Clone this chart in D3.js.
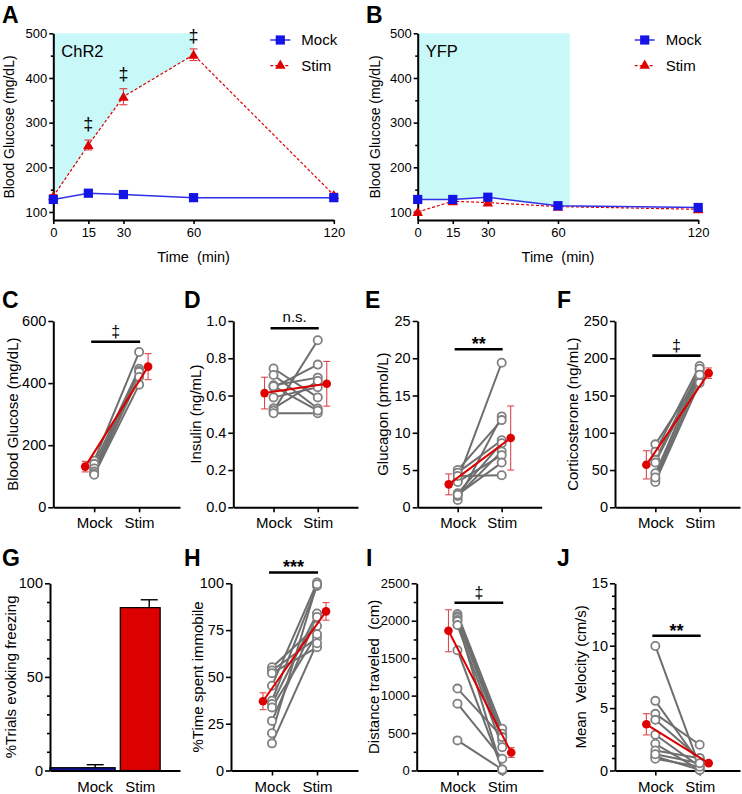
<!DOCTYPE html>
<html><head><meta charset="utf-8">
<script src="https://cdn.jsdelivr.net/npm/d3@7/dist/d3.min.js"></script>
<style>body{margin:0;background:#fff}</style>
</head><body>
<svg id="fig" width="742" height="794" xmlns="http://www.w3.org/2000/svg"></svg>
<script>
// ---------- DATA ----------
const timePoints = [0, 15, 30, 60, 120];
const chr2Mock = [128, 142, 139, 132, 132];
const chr2MockErr = [3, 4, 3, 3, 3];
const chr2Stim = [135, 250, 358, 452, 138];
const chr2StimErr = [4, 11, 18, 13, 4];
const chr2SigY = [null, 297, 409, 495, null];
const yfpMock = [128, 128, 133, 114, 110];
const yfpMockErr = [3, 6, 3, 4, 3];
const yfpStim = [100, 124, 121, 112, 106];
const yfpStimErr = [2, 4, 3, 3, 3];
const shadeA = [0, 60];
const shadeB = [0, 65];
const groups = ["Mock", "Stim"];

const glucoseMock = [150, 140, 125, 115, 108, 105];
const glucoseStim = [500, 446, 440, 436, 420, 395];
const glucoseMean = [131, 453];
const glucoseSem = [17, 42];

const insulinMock = [0.745, 0.71, 0.655, 0.644, 0.59, 0.531, 0.519, 0.505, 0.65];
const insulinStim = [0.59, 0.53, 0.696, 0.766, 0.644, 0.678, 0.897, 0.505, 0.519];
const insulinMean = [0.613, 0.663];
const insulinSem = [0.085, 0.12];

const glucagonMock = [3.66, 0.98, 5.0, 4.65, 1.88, 1.52, 3.4, 1.7, 4.2];
const glucagonStim = [19.4, 12.2, 11.7, 9.0, 8.6, 7.5, 7.0, 6.0, 4.3];
const glucagonMean = [3.08, 9.3];
const glucagonSem = [1.4, 4.3];

const corticoMock = [84.5, 74.7, 63.5, 45.6, 37.6, 34, 40, 60];
const corticoStim = [176, 189.7, 185, 180, 174.5, 167, 186, 178];
const corticoMean = [57, 180];
const corticoSem = [19, 7];

const freezingMean = [1.5, 87];
const freezingSem = [1.6, 4.2];

const immobileMock = [55.2, 53.4, 52, 45.3, 37.3, 35.5, 33.7, 26.5, 19.9, 14.5];
const immobileStim = [77.2, 70.8, 65.8, 100.4, 98.6, 83.9, 72.8, 82, 99.5, 68];
const immobileMean = [37, 85];
const immobileSem = [4.5, 4.7];

const distanceMock = [2089, 2060, 2040, 2010, 1995, 1942, 1607, 1094, 893, 402];
const distanceStim = [558, 491, 446, 402, 0, 312, 13, 446, 156, 13];
const distanceMean = [1866, 240];
const distanceSem = [280, 65];

const velocityMock = [9.98, 5.58, 4.54, 4.06, 2.86, 2.14, 1.6, 1.12, 0.94, 1.3];
const velocityStim = [0.3, 0.6, 2.06, 0.99, 0.32, 0.05, 0.99, 0.05, 0.3, 0.59];
const velocityMean = [3.7, 0.59];
const velocitySem = [0.85, 0.15];

// ---------- DRAWING ----------
const FONT = '"Liberation Sans", Arial, Helvetica, sans-serif';
const svg = d3.select("#fig");
const RED = "#dd0000", BLUE = "#1414e6", GRAY = "#6e6e6e", ERR = "#e0474c";

function styleAxis(g, fs) {
  g.selectAll("path.domain").attr("stroke", "#000").attr("stroke-width", 2);
  g.selectAll(".tick line").attr("stroke", "#000").attr("stroke-width", 1.6);
  g.selectAll(".tick text").attr("font-size", fs).attr("fill", "#000").attr("font-family", FONT);
}
function letter(t, x, y) {
  svg.append("text").attr("x", x).attr("y", y).attr("font-family", FONT)
    .attr("font-weight", "bold").attr("font-size", 23).text(t);
}
function yTitle(t, x, yc, fs) {
  svg.append("text").attr("transform", `translate(${x},${yc}) rotate(-90)`)
    .attr("text-anchor", "middle").attr("dominant-baseline", "central")
    .attr("font-family", FONT).attr("font-size", fs).text(t);
}
function errBar(g, xp, y0, y1, col, cap, w) {
  g.append("line").attr("x1", xp).attr("x2", xp).attr("y1", y0).attr("y2", y1).attr("stroke", col).attr("stroke-width", w);
  [y0, y1].forEach(yy => g.append("line").attr("x1", xp - cap).attr("x2", xp + cap).attr("y1", yy).attr("y2", yy).attr("stroke", col).attr("stroke-width", w));
}

function timePanel(c) {
  const x = d3.scaleLinear().domain([0, 120]).range([c.left, c.left + 280.5]);
  const y = d3.scaleLinear().domain([82, 500]).range([220, 33.3]);
  const g = svg.append("g");
  const lineAt = (vals, t) => {
    for (let i = 0; i < timePoints.length - 1; i++) {
      const t0 = timePoints[i], t1 = timePoints[i + 1];
      if (t >= t0 && t <= t1) return vals[i] + (vals[i + 1] - vals[i]) * (t - t0) / (t1 - t0);
    }
    return vals[vals.length - 1];
  };
  const [s0, s1] = c.shade;
  const lower = [[s1, lineAt(c.shadeLine, s1)]]
    .concat(timePoints.map((t, i) => [t, c.shadeLine[i]]).filter(d => d[0] > s0 && d[0] < s1).reverse())
    .concat([[s0, lineAt(c.shadeLine, s0)]]);
  const poly = [[s0, 500], [s1, 500]].concat(lower);
  g.append("path").attr("d", d3.line().x(d => x(d[0])).y(d => y(d[1]))(poly) + "Z").attr("fill", "#c8f8f8");

  const gy = g.append("g").attr("transform", `translate(${c.left},0)`)
    .call(d3.axisLeft(y).tickValues([100, 200, 300, 400, 500]).tickSize(4).tickSizeOuter(0).tickPadding(2));
  styleAxis(gy, 13);
  const gm = g.append("g").attr("transform", `translate(${c.left},0)`)
    .call(d3.axisLeft(y).tickValues([150, 250, 350, 450]).tickFormat("").tickSize(2.5));
  gm.select("path.domain").remove(); styleAxis(gm, 12);
  const gx = g.append("g").attr("transform", `translate(0,220)`)
    .call(d3.axisBottom(x).tickValues(timePoints).tickFormat(d3.format("d")).tickSize(4).tickSizeOuter(0).tickPadding(4));
  styleAxis(gx, 13);
  g.append("text").attr("x", x(60)).attr("y", 262).attr("text-anchor", "middle").attr("font-family", FONT)
    .attr("font-size", 14.5).style("white-space", "pre").text("Time  (min)");
  yTitle("Blood Glucose (mg/dL)", c.titleX, 127, 14);
  g.append("text").attr("x", c.left + 8).attr("y", 57).attr("font-family", FONT).attr("font-size", 16.5).text(c.label);

  const pts = (vals) => timePoints.map((t, i) => [t, vals[i]]);
  // Stim
  g.append("path").attr("d", d3.line().x(d => x(d[0])).y(d => y(d[1]))(pts(c.stim)))
    .attr("fill", "none").attr("stroke", RED).attr("stroke-width", 1.2).attr("stroke-dasharray", "3,2");
  timePoints.forEach((t, i) => errBar(g, x(t), y(c.stim[i] - c.stimErr[i]), y(c.stim[i] + c.stimErr[i]), ERR, 4, 1.2));
  g.selectAll(null).data(pts(c.stim)).enter().append("path")
    .attr("d", d3.symbol(d3.symbolTriangle, 48)()).attr("transform", d => `translate(${x(d[0])},${y(d[1]) + 1})`).attr("fill", RED);
  // Mock
  g.append("path").attr("d", d3.line().x(d => x(d[0])).y(d => y(d[1]))(pts(c.mock)))
    .attr("fill", "none").attr("stroke", "#3030e8").attr("stroke-width", 1.5);
  timePoints.forEach((t, i) => errBar(g, x(t), y(c.mock[i] - c.mockErr[i]), y(c.mock[i] + c.mockErr[i]), "#6060f0", 4, 1.2));
  g.selectAll(null).data(pts(c.mock)).enter().append("rect")
    .attr("x", d => x(d[0]) - 4.6).attr("y", d => y(d[1]) - 4.6).attr("width", 9.2).attr("height", 9.2).attr("fill", BLUE);
  // significance
  if (c.sig) timePoints.forEach((t, i) => {
    if (c.sig[i] != null) g.append("text").attr("x", x(t)).attr("y", y(c.sig[i])).attr("text-anchor", "middle")
      .attr("dominant-baseline", "central").attr("font-family", FONT).attr("font-size", 18).text("‡");
  });
  // legend
  const lx = c.left + 217;
  [["Mock", 40], ["Stim", 65.7]].forEach(([lab, ly]) => {
    if (lab === "Mock") {
      g.append("line").attr("x1", lx).attr("x2", lx + 20).attr("y1", ly).attr("y2", ly).attr("stroke", "#3030e8").attr("stroke-width", 1.5);
      g.append("rect").attr("x", lx + 10 - 4.6).attr("y", ly - 4.6).attr("width", 9.2).attr("height", 9.2).attr("fill", BLUE);
    } else {
      g.append("line").attr("x1", lx).attr("x2", lx + 20).attr("y1", ly).attr("y2", ly).attr("stroke", RED).attr("stroke-width", 1.2).attr("stroke-dasharray", "3,2");
      g.append("path").attr("d", d3.symbol(d3.symbolTriangle, 48)()).attr("transform", `translate(${lx + 10},${ly})`).attr("fill", RED);
    }
    g.append("text").attr("x", lx + 31).attr("y", ly + 5.4).attr("font-family", FONT).attr("font-size", 15).text(lab);
  });
}

function pairedPanel(c) {
  const x = d3.scalePoint().domain(groups).range([c.left, c.right]).padding(0.91);
  const y = d3.scaleLinear().domain(c.domain).range([c.bottom, c.top]);
  const g = svg.append("g");
  const gy = g.append("g").attr("transform", `translate(${c.left},0)`)
    .call(d3.axisLeft(y).tickValues(c.ticks).tickFormat(c.fmt || d3.format("d")).tickSize(5).tickSizeOuter(0).tickPadding(2));
  styleAxis(gy, c.tickFs || 14.5);
  if (c.minor) {
    const gm = g.append("g").attr("transform", `translate(${c.left},0)`)
      .call(d3.axisLeft(y).tickValues(c.minor).tickFormat("").tickSize(3));
    gm.select("path.domain").remove(); styleAxis(gm, 12);
  }
  const gx = g.append("g").attr("transform", `translate(0,${c.bottom})`)
    .call(d3.axisBottom(x).tickSize(5).tickSizeOuter(0).tickPadding(5.5));
  styleAxis(gx, 15);
  yTitle(c.title, c.titleX, (c.top + c.bottom) / 2, 15);

  c.mock.forEach((m, i) => {
    g.append("line").attr("x1", x("Mock")).attr("y1", y(m)).attr("x2", x("Stim")).attr("y2", y(c.stim[i]))
      .attr("stroke", GRAY).attr("stroke-width", 2);
  });
  const circ = (cx, v) => g.append("circle").attr("cx", cx).attr("cy", y(v)).attr("r", 4.1)
    .attr("fill", "#fff").attr("stroke", "#808080").attr("stroke-width", 1.8);
  c.mock.forEach(v => circ(x("Mock"), v));
  c.stim.forEach(v => circ(x("Stim"), v));

  const mx = [x("Mock") - 9, x("Stim") + 9];
  c.mean.forEach((m, i) => errBar(g, mx[i], y(m - c.sem[i]), y(m + c.sem[i]), ERR, 3.5, 1.1));
  g.append("line").attr("x1", mx[0]).attr("y1", y(c.mean[0])).attr("x2", mx[1]).attr("y2", y(c.mean[1]))
    .attr("stroke", RED).attr("stroke-width", 2);
  c.mean.forEach((m, i) => g.append("circle").attr("cx", mx[i]).attr("cy", y(m)).attr("r", 4.3).attr("fill", RED));

  // significance bar
  const by = y(c.sigY);
  g.append("line").attr("x1", x("Mock") - 3).attr("x2", x("Stim") + 1).attr("y1", by).attr("y2", by)
    .attr("stroke", "#000").attr("stroke-width", 2.6);
  const tx = (x("Mock") + x("Stim")) / 2 - 1;
  if (c.sig === "‡") {
    g.append("text").attr("x", tx).attr("y", by - 5).attr("text-anchor", "middle").attr("font-family", FONT).attr("font-size", 16).attr("fill", "#000").text(c.sig);
  } else if (c.sig === "n.s.") {
    g.append("text").attr("x", tx).attr("y", by - 6.5).attr("text-anchor", "middle").attr("font-family", FONT).attr("font-size", 15).text(c.sig);
  } else {
    g.append("text").attr("x", tx).attr("y", by + 1).attr("text-anchor", "middle").attr("font-family", FONT).attr("font-size", 18).attr("font-weight", "bold").text(c.sig);
  }
}

function barPanel(c) {
  const x = d3.scaleBand().domain(groups).range([c.left, c.right]).paddingInner(0.114).paddingOuter(0.5).align(0.56);
  const y = d3.scaleLinear().domain([0, 100]).range([c.bottom, c.top]);
  const g = svg.append("g");
  const fills = ["#12129a", RED];
  const errOff = [0, 9];
  groups.forEach((k, i) => {
    const x0 = i === 0 ? c.left : x(k);
    const x1 = x(k) + x.bandwidth();
    const cx = x(k) + x.bandwidth() / 2 + errOff[i];
    const top = y(c.mean[i]);
    const et = y(c.mean[i] + c.sem[i]);
    g.append("line").attr("x1", cx).attr("x2", cx).attr("y1", top).attr("y2", et).attr("stroke", "#000").attr("stroke-width", 1.4);
    g.append("line").attr("x1", cx - 8.5).attr("x2", cx + 8.5).attr("y1", et).attr("y2", et).attr("stroke", "#000").attr("stroke-width", 1.4);
    g.append("rect").attr("x", x0).attr("y", top).attr("width", x1 - x0).attr("height", c.bottom - top)
      .attr("fill", fills[i]).attr("stroke", "#000").attr("stroke-width", 1.2);
  });
  const gy = g.append("g").attr("transform", `translate(${c.left},0)`)
    .call(d3.axisLeft(y).tickValues([0, 50, 100]).tickSize(5).tickSizeOuter(0).tickPadding(2));
  styleAxis(gy, 14.5);
  const gm = g.append("g").attr("transform", `translate(${c.left},0)`)
    .call(d3.axisLeft(y).tickValues([10, 20, 30, 40, 60, 70, 80, 90]).tickFormat("").tickSize(3));
  gm.select("path.domain").remove(); styleAxis(gm, 12);
  const gx = g.append("g").attr("transform", `translate(0,${c.bottom})`)
    .call(d3.axisBottom(x).tickSize(0).tickSizeOuter(0).tickPadding(11));
  styleAxis(gx, 15);
  yTitle(c.title, c.titleX, (c.top + c.bottom) / 2, 15);
}

// Row 1
timePanel({ left: 53.3, titleX: 9, label: "ChR2", shade: shadeA, shadeLine: chr2Stim,
  mock: chr2Mock, mockErr: chr2MockErr, stim: chr2Stim, stimErr: chr2StimErr, sig: chr2SigY });
timePanel({ left: 417.7, titleX: 375, label: "YFP", shade: shadeB, shadeLine: yfpMock,
  mock: yfpMock, mockErr: yfpMockErr, stim: yfpStim, stimErr: yfpStimErr, sig: null });

// Row 2
const R2 = { top: 321, bottom: 507.3 };
pairedPanel({ ...R2, left: 53.3, right: 180, domain: [0, 600], ticks: [0, 200, 400, 600], title: "Blood Glucose (mg/dL)", titleX: 12,
  mock: glucoseMock, stim: glucoseStim, mean: glucoseMean, sem: glucoseSem, sig: "‡", sigY: 533 });
pairedPanel({ ...R2, left: 233.3, right: 358, domain: [0, 1], ticks: [0, 0.2, 0.4, 0.6, 0.8, 1.0], fmt: d3.format(".1f"), title: "Insulin (ng/mL)", titleX: 195,
  mock: insulinMock, stim: insulinStim, mean: insulinMean, sem: insulinSem, sig: "n.s.", sigY: 0.961 });
pairedPanel({ ...R2, left: 417.7, right: 541.7, domain: [0, 25], ticks: [0, 5, 10, 15, 20, 25], title: "Glucagon (pmol/L)", titleX: 382,
  mock: glucagonMock, stim: glucagonStim, mean: glucagonMean, sem: glucagonSem, sig: "**", sigY: 21.2 });
pairedPanel({ ...R2, left: 615, right: 740, domain: [0, 250], ticks: [0, 50, 100, 150, 200, 250], title: "Corticosterone (ng/mL)", titleX: 572,
  mock: corticoMock, stim: corticoStim, mean: corticoMean, sem: corticoSem, sig: "‡", sigY: 203.5 });

// Row 3
const R3 = { top: 583.3, bottom: 770.5 };
barPanel({ ...R3, left: 50, right: 180, title: "%Trials evoking freezing", titleX: 10, mean: freezingMean, sem: freezingSem });
pairedPanel({ ...R3, left: 231, right: 358, domain: [0, 100], ticks: [0, 25, 50, 75, 100], title: "%Time spent immobile", titleX: 197,
  mock: immobileMock, stim: immobileStim, mean: immobileMean, sem: immobileSem, sig: "***", sigY: 105.8 });
pairedPanel({ ...R3, left: 416.7, right: 543, domain: [0, 2500], ticks: [0, 500, 1000, 1500, 2000, 2500], minor: [250, 750, 1250, 1750, 2250], tickFs: 13, title: "Distance traveled  (cm)", titleX: 373,
  mock: distanceMock, stim: distanceStim, mean: distanceMean, sem: distanceSem, sig: "‡", sigY: 2240 });
pairedPanel({ ...R3, left: 615, right: 740, domain: [0, 15], ticks: [0, 5, 10, 15], minor: [1, 2, 3, 4, 6, 7, 8, 9, 11, 12, 13, 14], title: "Mean  Velocity (cm/s)", titleX: 580,
  mock: velocityMock, stim: velocityStim, mean: velocityMean, sem: velocitySem, sig: "**", sigY: 10.8 });

svg.selectAll("text").style("white-space", "pre");

// Letters
letter("A", 2, 23); letter("B", 366, 23);
letter("C", 2, 308); letter("D", 184, 308); letter("E", 365, 308); letter("F", 557, 308);
letter("G", 2, 566); letter("H", 184, 566); letter("I", 366, 566); letter("J", 557, 566);
</script>
</body></html>
